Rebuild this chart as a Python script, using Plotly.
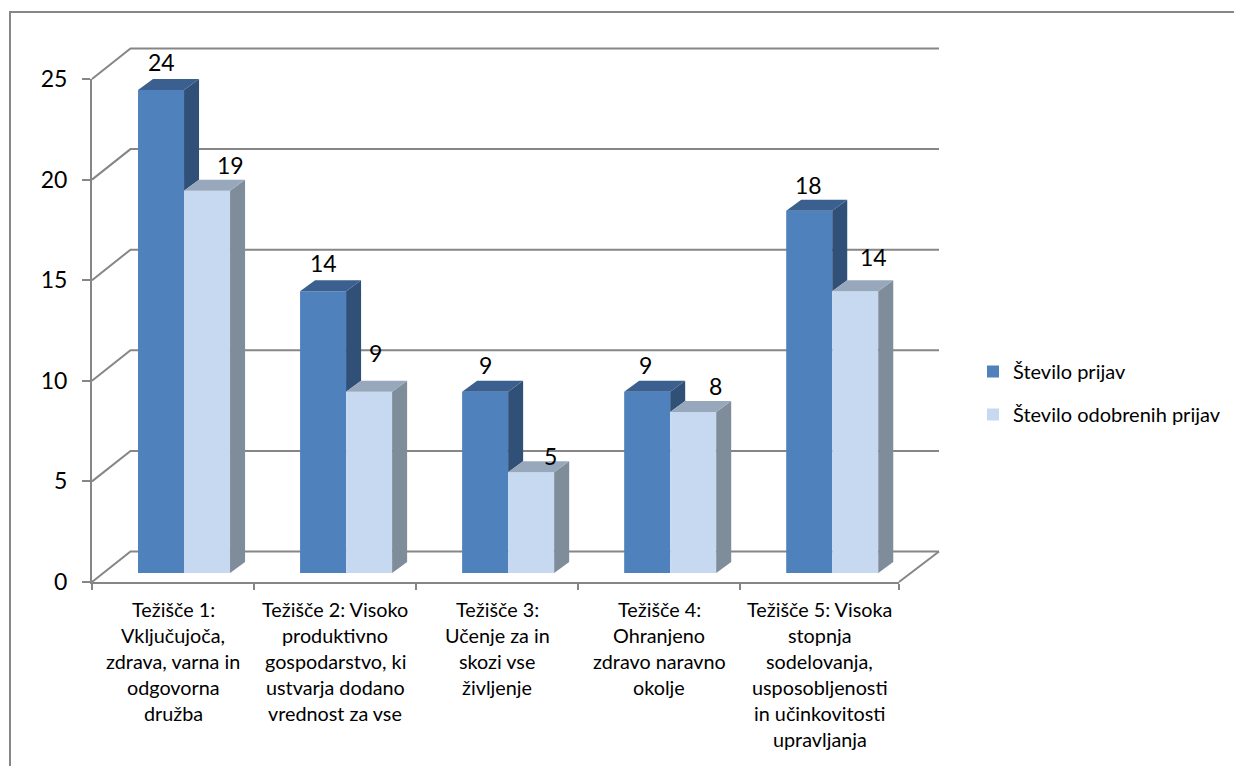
import plotly.graph_objects as go

CATEGORY_LINES = [
    ["Težišče 1:", "Vključujoča,", "zdrava, varna in", "odgovorna", "družba"],
    ["Težišče 2: Visoko", "produktivno", "gospodarstvo, ki", "ustvarja dodano", "vrednost za vse"],
    ["Težišče 3:", "Učenje za in", "skozi vse", "življenje"],
    ["Težišče 4:", "Ohranjeno", "zdravo naravno", "okolje"],
    ["Težišče 5: Visoka", "stopnja", "sodelovanja,", "usposobljenosti", "in učinkovitosti", "upravljanja"],
]
SERIES_1_NAME = "Število prijav"
SERIES_2_NAME = "Število odobrenih prijav"
SERIES_1 = [24, 14, 9, 9, 18]
SERIES_2 = [19, 9, 5, 8, 14]
Y_TICKS = [0, 5, 10, 15, 20, 25]

# manual label displacement in pixels, as placed in the original chart
LABEL_1_DX = [0, 0, 0, -2, -1]
LABEL_1_DY = [28, 28, 27, 27, 26]
LABEL_2_DX = [23, 6, 19, 22, 18]
LABEL_2_DY = [26, 39, 16, 26, 34]

FONT = "Lato, Carlito, Calibri, sans-serif"
TXT = "#000000"
AXIS = "#868686"
W, H = 1234, 766
L, R, T, B = 92, 899, 79, 582
X_MAX = 4.98
PX_X = (R - L) / X_MAX
PX_Y = (B - T) / 25
px = lambda d: d / PX_X
py = lambda d: d / PX_Y
paper_x = lambda x: x / X_MAX
paper_y = lambda y: y / 25

WALL_DX, WALL_DY = px(38.5), py(30.5)
WALL_END = X_MAX + px(40)
BAR_DX, BAR_DY = px(15), py(11)
BAR_W = 0.284
BASE = 0.45

COL = {
    1: dict(front="#4F81BD", top="#3B6090", side="#305078"),
    2: dict(front="#C6D9F1", top="#98A8BC", side="#7F8C9A"),
}

fig = go.Figure()

# bars (front faces)
xs1 = [i + BAR_W for i in range(5)]
xs2 = [i + 2 * BAR_W for i in range(5)]
for name, xs, vals, c in [(SERIES_1_NAME, xs1, SERIES_1, 1), (SERIES_2_NAME, xs2, SERIES_2, 2)]:
    fig.add_trace(go.Bar(
        x=xs, y=vals, base=BASE, width=BAR_W, offset=0, name=name, legendgroup=name,
        marker=dict(color=COL[c]["front"], line=dict(width=0)), cliponaxis=False,
    ))


def face(xp, yp, color):
    fig.add_trace(go.Scatter(
        x=xp, y=yp, mode="lines", fill="toself", fillcolor=color, line=dict(width=0, color=color),
        showlegend=False, hoverinfo="skip", cliponaxis=False,
    ))


for i in range(5):
    a, b = SERIES_1[i], SERIES_2[i]
    x1, x2, x3 = xs1[i], xs2[i], xs2[i] + BAR_W
    t1, t2 = a + BASE, b + BASE
    # first series: side (only the part above the neighbour), then top
    face([x2, x2 + BAR_DX, x2 + BAR_DX, x2, x2], [t1, t1 + BAR_DY, t2 + BAR_DY, t2, t1], COL[1]["side"])
    face([x1, x1 + BAR_DX, x2 + BAR_DX, x2, x1], [t1, t1 + BAR_DY, t1 + BAR_DY, t1, t1], COL[1]["top"])
    # second series
    face([x3, x3 + BAR_DX, x3 + BAR_DX, x3, x3], [t2, t2 + BAR_DY, BASE + BAR_DY, BASE, t2], COL[2]["side"])
    face([x2, x2 + BAR_DX, x3 + BAR_DX, x3, x2], [t2, t2 + BAR_DY, t2 + BAR_DY, t2, t2], COL[2]["top"])

annotations = []


def label(x, y, txt, size):
    annotations.append(dict(
        x=paper_x(x), y=paper_y(y), xref="paper", yref="paper", text=txt, showarrow=False,
        xanchor="center", yanchor="middle", font=dict(family=FONT, size=size, color=TXT),
    ))


# data labels
for i in range(5):
    label(xs1[i] + BAR_W / 2 + px(LABEL_1_DX[i]), SERIES_1[i] + BASE + py(LABEL_1_DY[i]), str(SERIES_1[i]), 23)
    label(xs2[i] + BAR_W / 2 + px(LABEL_2_DX[i]), SERIES_2[i] + BASE + py(LABEL_2_DY[i]), str(SERIES_2[i]), 23)

shapes = []
line = dict(color=AXIS, width=2)
# side wall, back wall and floor lines
for t in Y_TICKS:
    shapes.append(dict(
        type="path", layer="below", xref="paper", yref="paper", line=line,
        path=f"M0,{paper_y(t)}L{paper_x(WALL_DX)},{paper_y(t + WALL_DY)}L{paper_x(WALL_END)},{paper_y(t + WALL_DY)}",
    ))
shapes.append(dict(
    type="path", layer="below", xref="paper", yref="paper", line=line,
    path=f"M1,0L{paper_x(WALL_END)},{paper_y(WALL_DY)}",
))
# chart frame (runs off the right and bottom edges of the picture)
fx = (10 - L) / (R - L)
fy_top = (B - 12) / (B - T)
fy_bot = (B - H) / (B - T)
fx_r = (W - L) / (R - L)
shapes.append(dict(
    type="path", layer="below", xref="paper", yref="paper", line=line,
    path=f"M{fx},{fy_bot}L{fx},{fy_top}L{fx_r},{fy_top}",
))

# category labels, one line per entry at the original line spacing
edges = [0, 1, 2, 3, 4, X_MAX]
for i, lines in enumerate(CATEGORY_LINES):
    cx = (edges[i] + edges[i + 1]) / 2
    for k, txt in enumerate(lines):
        label(cx, -py(27 + 26 * k), txt, 19.8)

fig.update_layout(
    width=W, height=H, autosize=False,
    margin=dict(l=L, r=W - R, t=T, b=H - B, pad=0),
    paper_bgcolor="white", plot_bgcolor="rgba(0,0,0,0)",
    barmode="overlay", shapes=shapes, annotations=annotations,
    font=dict(family=FONT, color=TXT),
    xaxis=dict(
        range=[0, X_MAX], tickmode="array", tickvals=edges, ticktext=[""] * 6, ticks="outside",
        ticklen=6, tickwidth=2, tickcolor=AXIS, showline=True, linecolor=AXIS, linewidth=2,
        showgrid=False, zeroline=False, fixedrange=True,
    ),
    yaxis=dict(
        range=[0, 25], tickmode="array", tickvals=Y_TICKS, ticks="outside",
        ticklen=8, tickwidth=2, tickcolor=AXIS, showline=True, linecolor=AXIS, linewidth=2,
        showgrid=False, zeroline=False, fixedrange=True, ticklabelstandoff=10,
        tickfont=dict(family=FONT, size=23, color=TXT),
    ),
    showlegend=True,
    legend=dict(
        xref="container", yref="container",
        x=973 / W, y=(H - 352) / H, xanchor="left", yanchor="top",
        traceorder="grouped", tracegroupgap=14, borderwidth=0, bgcolor="rgba(0,0,0,0)",
        font=dict(family=FONT, size=20, color=TXT),
    ),
)

fig.write_html(
    "out.html", config={"displayModeBar": False},
    post_script="document.body.style.margin='0';document.body.style.overflow='hidden';",
)
